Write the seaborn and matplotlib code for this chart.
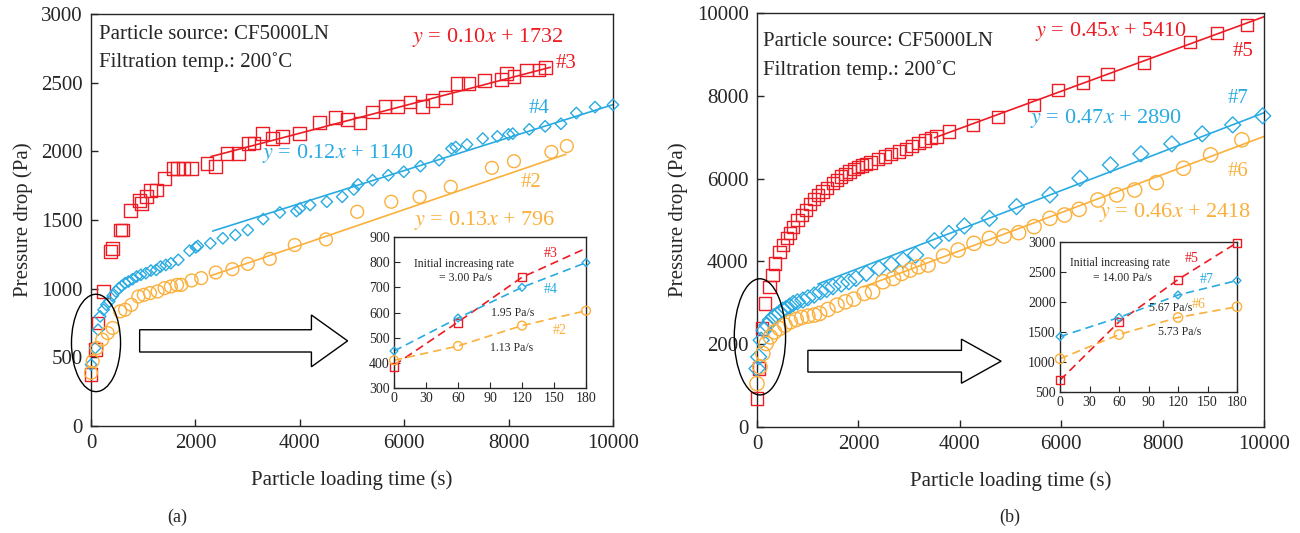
import numpy as np
import pandas as pd
import matplotlib
matplotlib.use("Agg")
import matplotlib.pyplot as plt
from matplotlib.patches import Ellipse, FancyArrow
import seaborn as sns

sns.set_style("ticks")
plt.rcParams['font.family'] = ['Liberation Serif', 'DejaVu Serif']
plt.rcParams['mathtext.fontset'] = 'stix'
plt.rcParams['xtick.direction'] = 'in'
plt.rcParams['ytick.direction'] = 'in'

RED = '#ED1C24'
BLUE = '#29ABE2'
ORANGE = '#FBB03B'

# ---------- panel (a) ----------
a3_t = [0, 80, 135, 240, 375, 415, 570, 600, 757, 932, 972, 1068, 1147, 1251, 1410, 1570,
        1650, 1770, 1928, 2223, 2390, 2605, 2820, 3020, 3123, 3283, 3482, 3665, 4000, 4382,
        4677, 4916, 5155, 5394, 5633, 5872, 6111, 6351, 6550, 6789, 7028, 7227, 7546, 7865,
        7968, 8104, 8343, 8582, 8701]
a3_p = [375, 556, 750, 980, 1270, 1294, 1427, 1427, 1572, 1645, 1620, 1674, 1713, 1718, 1802, 1875,
        1875, 1875, 1875, 1911, 1887, 1984, 1984, 2056, 2061, 2129, 2093, 2109, 2129, 2213,
        2245, 2233, 2206, 2286, 2327, 2327, 2359, 2327, 2371, 2390, 2497, 2497, 2516, 2521,
        2569, 2545, 2593, 2593, 2612]
a4_t = [0, 80, 135, 175, 240, 295, 350, 415, 478, 534, 590, 653, 717, 797, 876, 956, 1052, 1147,
        1251, 1331, 1434, 1530, 1673, 1888, 2008, 2048, 2287, 2526, 2765, 3004, 3299, 3618, 3936,
        4000, 4199, 4518, 4813, 5036, 5116, 5394, 5697, 5992, 6311, 6669, 6908, 6988, 7203, 7506,
        7785, 8000, 8080, 8398, 8701, 9004, 9299, 9657, 10000]
a4_p = [447, 568, 701, 798, 847, 883, 907, 948, 980, 1004, 1021, 1040, 1052, 1069, 1089, 1101, 1113, 1132,
        1137, 1161, 1173, 1185, 1210, 1277, 1301, 1311, 1330, 1367, 1391, 1427, 1507, 1555, 1565,
        1584, 1609, 1633, 1669, 1722, 1759, 1790, 1826, 1851, 1892, 1935, 2020, 2032, 2049, 2093,
        2109, 2124, 2129, 2160, 2182, 2201, 2279, 2322, 2339]
a2_t = [0, 32, 112, 215, 319, 415, 558, 653, 773, 908, 1012, 1131, 1275, 1410, 1530, 1649, 1729,
        1928, 2111, 2390, 2709, 3004, 3426, 3904, 4502, 5100, 5753, 6295, 6892, 7681, 8104, 8821, 9116]
a2_p = [387, 472, 568, 629, 677, 714, 835, 847, 883, 943, 955, 968, 980, 1004, 1016, 1028, 1028,
        1060, 1077, 1118, 1142, 1181, 1217, 1318, 1359, 1560, 1633, 1669, 1742, 1880, 1928, 1996, 2039]

# fit lines: slope, intercept, start, end
a3_fit = (0.10, 1732, 2300, 8800)
a4_fit = (0.12, 1140, 2330, 10000)
a2_fit = (0.13, 796, 2300, 9100)

# inset (a), first 180 s
ins_t = [0, 60, 120, 180]
ia3_p = [385, 560, 740]
ia3_line = [390, 562, 740, 855]
ia4_p = [447, 578, 700, 798]
ia2_p = [410, 467, 548, 607]

# ---------- panel (b) ----------
b5_t = [0, 33, 99, 165, 247, 305, 362, 444, 510, 593, 658, 716, 798, 881, 963, 1045, 1128, 1210,
        1292, 1374, 1498, 1580, 1663, 1745, 1827, 1909, 1992, 2074, 2156, 2239, 2387, 2527, 2650,
        2798, 2938, 3062, 3185, 3309, 3432, 3539, 3786, 4255, 4749, 5465, 5942, 6436, 6914, 7630,
        8535, 9070, 9671]
b5_p = [686, 1411, 2379, 2984, 3387, 3669, 3952, 4234, 4395, 4557, 4694, 4839, 5000, 5121, 5242, 5387,
        5500, 5605, 5686, 5766, 5887, 5968, 6049, 6113, 6170, 6226, 6274, 6315, 6355, 6387, 6468,
        6533, 6597, 6654, 6710, 6791, 6855, 6920, 6976, 7016, 7137, 7298, 7484, 7782, 8145, 8323,
        8532, 8807, 9291, 9517, 9718]
b7_t = [0, 33, 82, 140, 198, 263, 329, 387, 444, 510, 576, 642, 716, 798, 905, 1004, 1128, 1251,
        1374, 1498, 1663, 1811, 1951, 2156, 2403, 2650, 2881, 3128, 3498, 3786, 4091, 4584, 5119,
        5778, 6370, 6971, 7572, 8181, 8782, 9383, 9975]
b7_p = [1411, 1694, 2097, 2339, 2460, 2581, 2661, 2702, 2758, 2823, 2863, 2919, 2984, 3024, 3065,
        3121, 3186, 3266, 3323, 3387, 3452, 3508, 3589, 3710, 3831, 3928, 4032, 4153, 4500, 4678,
        4855, 5040, 5323, 5605, 6008, 6331, 6597, 6839, 7081, 7298, 7516]
b6_t = [0, 58, 115, 181, 263, 346, 444, 551, 658, 774, 881, 1004, 1128, 1235, 1399, 1580, 1745,
        1909, 2115, 2280, 2486, 2691, 2856, 3021, 3185, 3374, 3679, 3967, 4280, 4584, 4872, 5160,
        5465, 5778, 6066, 6354, 6724, 7095, 7449, 7877, 8412, 8947, 9564]
b6_p = [1048, 1452, 1774, 2016, 2177, 2298, 2379, 2460, 2540, 2597, 2645, 2677, 2702, 2742, 2839,
        2944, 3024, 3089, 3226, 3266, 3508, 3589, 3710, 3790, 3871, 3912, 4129, 4274, 4436, 4557,
        4613, 4694, 4839, 5040, 5121, 5258, 5484, 5605, 5726, 5903, 6250, 6573, 6936]

b5_fit = (0.45, 5410, 3500, 10000)
b7_fit = (0.47, 2890, 1200, 10000)
b6_fit = (0.46, 2418, 2100, 10000)

ib5_p = [696, 1669, 2374, 2989]
ib7_p = [1423, 1742, 2117, 2357]
ib6_p = [1054, 1457, 1742, 1921]


def scatter(ax, t, p, marker, color, size, lw=1.0):
    sns.scatterplot(x=t, y=p, marker=marker, s=size, color=color, facecolor='none',
                    edgecolor=color, linewidth=lw, ax=ax, clip_on=False, zorder=3)


def fit_line(ax, fit, color):
    k, b, x0, x1 = fit
    xs = [x0, x1]
    ys = [k * x0 + b, k * x1 + b]
    sns.lineplot(x=xs, y=ys, color=color, lw=1.2, ax=ax, zorder=2)


def dash(ax, t, p, color):
    sns.lineplot(x=t, y=p, color=color, lw=1.2, ax=ax, linestyle=(0, (5, 3)), zorder=2)


def style_main(ax, ymax, ystep):
    ax.set_xlim(0, 10000)
    ax.set_ylim(0, ymax)
    ax.set_xticks(np.arange(0, 10001, 2000))
    ax.set_yticks(np.arange(0, ymax + 1, ystep))
    ax.tick_params(labelsize=15, length=5, width=1, top=False, right=False, pad=6)
    for s in ax.spines.values():
        s.set_linewidth(1.0)
        s.set_visible(True)
    ax.set_xlabel('Particle loading time (s)', fontsize=15, labelpad=12)
    ax.set_ylabel('Pressure drop (Pa)', fontsize=15, labelpad=6)


def style_inset(ax, ymin, ymax, ystep):
    ax.set_xlim(0, 180)
    ax.set_ylim(ymin, ymax)
    ax.set_xticks(np.arange(0, 181, 30))
    ax.set_yticks(np.arange(ymin, ymax + 1, ystep))
    ax.tick_params(labelsize=10, length=4, width=0.8, pad=3)
    for s in ax.spines.values():
        s.set_linewidth(1.0)
        s.set_visible(True)


fig = plt.figure(figsize=(13, 5.33), dpi=100)
axa = fig.add_axes([0.070, 0.2007, 0.4015, 0.773])
axb = fig.add_axes([0.5823, 0.1989, 0.390, 0.7767])

# panel (a)
scatter(axa, a3_t, a3_p, 's', RED, 85)
scatter(axa, a4_t, a4_p, 'D', BLUE, 34)
scatter(axa, a2_t, a2_p, 'o', ORANGE, 85)
fit_line(axa, a3_fit, RED)
fit_line(axa, a4_fit, BLUE)
fit_line(axa, a2_fit, ORANGE)
style_main(axa, 3000, 500)

tk = dict(fontsize=15, va='center')
ek = dict(fontsize=16, va='center', ha='left')
axa.text(160, 2854, 'Particle source: CF5000LN', ha='left', **tk)
axa.text(160, 2649, 'Filtration temp.: 200˚C', ha='left', **tk)
axa.text(6151, 2830, r'$y$ = 0.10$x$ + 1732', color=RED, **ek)
axa.text(8900, 2637, '#3', color=RED, ha='left', **tk)
axa.text(8382, 2310, '#4', color=BLUE, ha='left', **tk)
axa.text(3267, 1984, r'$y$ = 0.12$x$ + 1140', color=BLUE, **ek)
axa.text(8223, 1771, '#2', color=ORANGE, ha='left', **tk)
axa.text(6191, 1500, r'$y$ = 0.13$x$ + 796', color=ORANGE, **ek)

axa.add_patch(Ellipse((96, 605), 940, 709, fill=False, ec='black', lw=1.0, zorder=4, clip_on=False))
axa.add_patch(FancyArrow(932, 620, 3984, 0, width=162, head_width=377, head_length=693,
                         length_includes_head=True, fc='white', ec='black', lw=1.0, zorder=4))

ina = fig.add_axes([394 / 1300, 1 - 388 / 533, 192 / 1300, 151 / 533])
dash(ina, ins_t, ia3_line, RED)
dash(ina, ins_t, ia4_p, BLUE)
dash(ina, ins_t, ia2_p, ORANGE)
scatter(ina, ins_t[:3], ia3_p, 's', RED, 34)
scatter(ina, ins_t, ia4_p, 'D', BLUE, 16)
scatter(ina, ins_t, ia2_p, 'o', ORANGE, 40)
style_inset(ina, 300, 900, 100)
ik = dict(fontsize=8.5, ha='center', va='center')
ina.text(66, 794, 'Initial increasing rate', **ik)
ina.text(67, 736, '= 3.00 Pa/s', **ik)
ina.text(111, 600, '1.95 Pa/s', **ik)
ina.text(110, 459, '1.13 Pa/s', **ik)
ina.text(147, 834, '#3', color=RED, fontsize=10, ha='center', va='center')
ina.text(147, 690, '#4', color=BLUE, fontsize=10, ha='center', va='center')
ina.text(155, 528, '#2', color=ORANGE, fontsize=10, ha='center', va='center')

# panel (b)
scatter(axb, b5_t, b5_p, 's', RED, 78)
scatter(axb, b7_t, b7_p, 'D', BLUE, 66)
scatter(axb, b6_t, b6_p, 'o', ORANGE, 105)
fit_line(axb, b5_fit, RED)
fit_line(axb, b7_fit, BLUE)
fit_line(axb, b6_fit, ORANGE)
style_main(axb, 10000, 2000)

axb.text(115, 9315, 'Particle source: CF5000LN', ha='left', **tk)
axb.text(115, 8630, 'Filtration temp.: 200˚C', ha='left', **tk)
axb.text(5490, 9557, r'$y$ = 0.45$x$ + 5410', color=RED, **ek)
axb.text(9383, 9073, '#5', color=RED, ha='left', **tk)
axb.text(9276, 7944, '#7', color=BLUE, ha='left', **tk)
axb.text(5383, 7460, r'$y$ = 0.47$x$ + 2890', color=BLUE, **ek)
axb.text(9276, 6170, '#6', color=ORANGE, ha='left', **tk)
axb.text(6749, 5178, r'$y$ = 0.46$x$ + 2418', color=ORANGE, **ek)

axb.add_patch(Ellipse((58, 2177), 1012, 2806, fill=False, ec='black', lw=1.0, zorder=4, clip_on=False))
axb.add_patch(FancyArrow(1004, 1589, 3811, 0, width=524, head_width=1065, head_length=782,
                         length_includes_head=True, fc='white', ec='black', lw=1.0, zorder=4))

inb = fig.add_axes([1060 / 1300, 1 - 392 / 533, 177 / 1300, 150 / 533])
dash(inb, ins_t, ib5_p, RED)
dash(inb, ins_t, ib7_p, BLUE)
dash(inb, ins_t, ib6_p, ORANGE)
scatter(inb, ins_t, ib5_p, 's', RED, 34)
scatter(inb, ins_t, ib7_p, 'D', BLUE, 16)
scatter(inb, ins_t, ib6_p, 'o', ORANGE, 45)
style_inset(inb, 500, 3000, 500)
inb.text(61, 2648, 'Initial increasing rate', **ik)
inb.text(64, 2396, '= 14.00 Pa/s', **ik)
inb.text(112, 1898, '5.67 Pa/s', **ik)
inb.text(122, 1501, '5.73 Pa/s', **ik)
inb.text(134, 2732, '#5', color=RED, fontsize=10, ha='center', va='center')
inb.text(149, 2374, '#7', color=BLUE, fontsize=10, ha='center', va='center')
inb.text(141, 1960, '#6', color=ORANGE, fontsize=10, ha='center', va='center')

fig.text(177 / 1300, 1 - 517 / 533, '(a)', fontsize=13, ha='center', va='center')
fig.text(1010 / 1300, 1 - 517 / 533, '(b)', fontsize=13, ha='center', va='center')

fig.savefig('out.png', dpi=100)
